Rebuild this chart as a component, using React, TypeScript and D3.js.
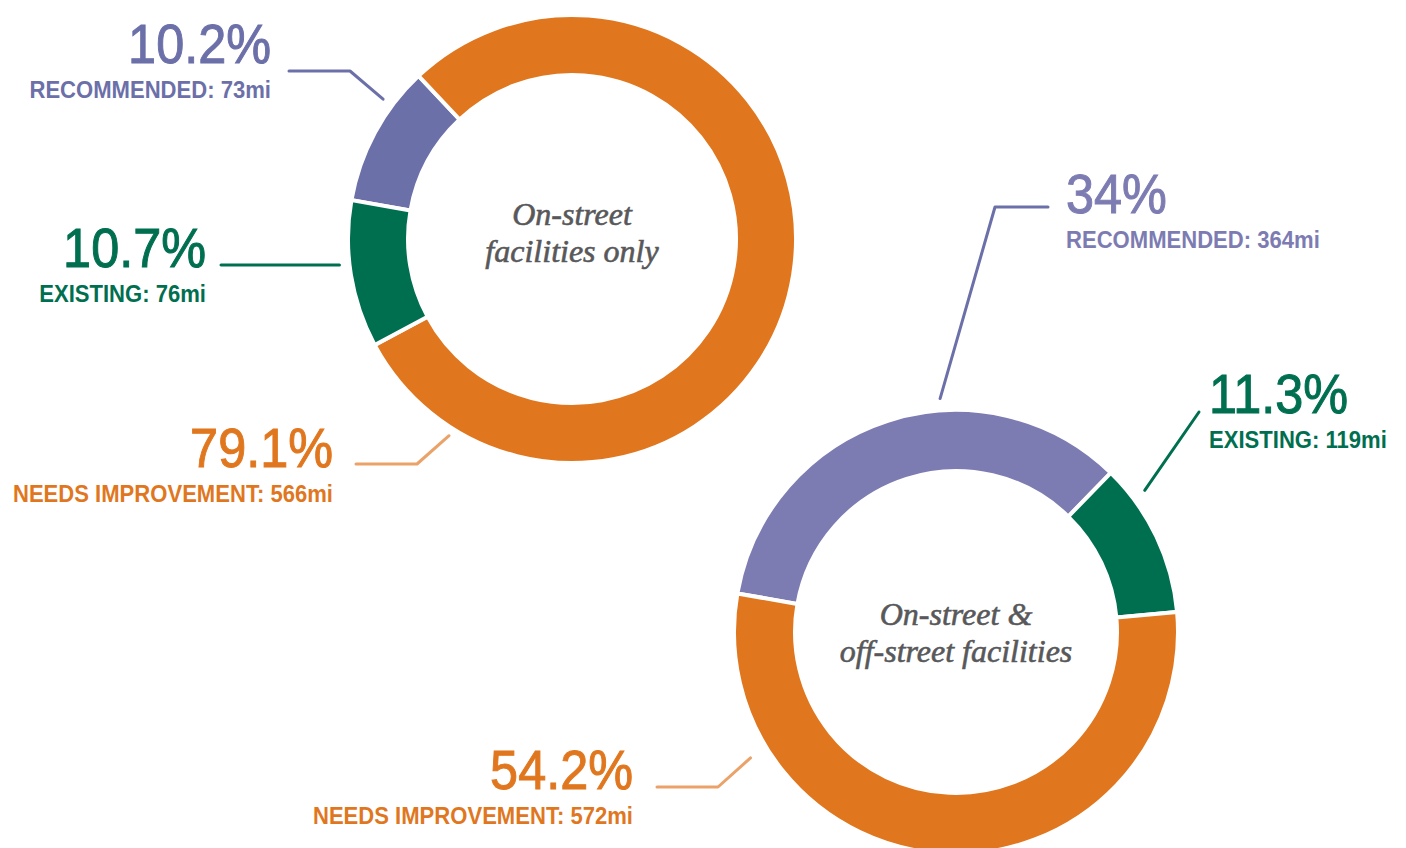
import * as d3 from 'd3'
import React from 'react'

// segment order around each ring (clockwise, starting at -80deg)
const onStreetKeys = ['recommended', 'needs', 'existing']
const onStreetMiles = [73, 566, 76]
const onStreetPct = ['10.2%', '79.1%', '10.7%']
const onStreetNames = ['RECOMMENDED', 'NEEDS IMPROVEMENT', 'EXISTING']

const bothKeys = ['recommended', 'existing', 'needs']
const bothMiles = [364, 119, 572]
const bothPct = ['34%', '11.3%', '54.2%']
const bothNames = ['RECOMMENDED', 'EXISTING', 'NEEDS IMPROVEMENT']

const onStreetTitle = ['On-street', 'facilities only']
const bothTitle = ['On-street &', 'off-street facilities']

const W = 1406
const H = 848

// no condensed face installed, so squeeze Liberation Sans horizontally
const labelFont = "'Liberation Sans', Arial, sans-serif"
const titleFont = "'Liberation Serif', 'DejaVu Serif', serif"

const fills1 = { recommended: '#6c70a9', existing: '#006f50', needs: '#e0771f' }
const fills2 = { recommended: '#7d7cb2', existing: '#006f50', needs: '#e0771f' }
const leaderColor = { recommended: '#6c70a9', existing: '#006f50', needs: '#eba268' }

// label layout: text anchor point + leader polyline (leader ends given as angle/radius from center)
const layout1 = {
  recommended: { x: 271, y: 63, anchor: 'end', line: [[289, 71], [350, 71]], endA: -53.5, endR: 235 },
  existing: { x: 206, y: 267, anchor: 'end', line: [[221, 265]], endA: -96.4, endR: 234 },
  needs: { x: 333, y: 467, anchor: 'end', line: [[356, 464], [417, 464]], endA: -148, endR: 232 },
}
const layout2 = {
  recommended: { x: 1066, y: 213, anchor: 'start', line: [[1048, 207], [995, 207]], endA: -3.9, endR: 234 },
  existing: { x: 1209, y: 413, anchor: 'start', line: [[1199, 412]], endA: 53.1, endR: 236 },
  needs: { x: 633, y: 789, anchor: 'end', line: [[657, 787], [718, 787]], endA: -121.5, endR: 241 },
}

const Donut = ({ cx, cy, outer, inner, keys, miles, pct, names, fills, layout, title, titleBase }) => {
  const pie = d3.pie<number>()
    .sort(null)
    .value((d) => d)
    .startAngle((-80 * Math.PI) / 180)
    .endAngle((280 * Math.PI) / 180)
  const arc = d3.arc<d3.PieArcDatum<number>>().innerRadius(inner).outerRadius(outer)
  const arcs = pie(miles)

  return (
    <g>
      <g transform={`translate(${cx},${cy})`}>
        {arcs.map((a, i) => (
          <path key={keys[i]} d={arc(a) || ''} fill={fills[keys[i]]} stroke="#fff" strokeWidth={4} />
        ))}
        {title.map((t, i) => (
          <text
            key={t}
            x={0}
            y={titleBase + i * 37}
            textAnchor="middle"
            fontFamily={titleFont}
            fontStyle="italic"
            fontSize={32}
            fill="#58585a"
            stroke="#58585a"
            strokeWidth={0.6}
          >
            {t}
          </text>
        ))}
      </g>
      {keys.map((k, i) => {
        const L = layout[k]
        const [ex, ey] = d3.pointRadial((L.endA * Math.PI) / 180, L.endR)
        const pts = [...L.line, [cx + ex, cy + ey]]
        const color = fills[k]
        return (
          <g key={k}>
            <path
              d={d3.line()(pts as [number, number][]) || ''}
              fill="none"
              stroke={leaderColor[k]}
              strokeWidth={3}
              strokeLinecap="round"
              strokeLinejoin="round"
            />
            <text
              transform={`translate(${L.x},${L.y}) scale(0.9,1)`}
              textAnchor={L.anchor}
              fontFamily={labelFont}
              fontSize={56}
              fill={color}
              stroke={color}
              strokeWidth={1}
            >
              {pct[i]}
            </text>
            <text
              transform={`translate(${L.x},${L.y + 35}) scale(0.92,1)`}
              textAnchor={L.anchor}
              fontFamily={labelFont}
              fontWeight="bold"
              fontSize={24}
              fill={color}
            >
              {`${names[i]}: ${miles[i]}mi`}
            </text>
          </g>
        )
      })}
    </g>
  )
}

const App = () => {
  return (
    <svg width={W} height={H} style={{ position: 'absolute', left: 0, top: 0, background: '#fff' }}>
      <Donut
        cx={572}
        cy={239}
        outer={224}
        inner={164}
        keys={onStreetKeys}
        miles={onStreetMiles}
        pct={onStreetPct}
        names={onStreetNames}
        fills={fills1}
        layout={layout1}
        title={onStreetTitle}
        titleBase={-14}
      />
      <Donut
        cx={956}
        cy={632}
        outer={222}
        inner={161}
        keys={bothKeys}
        miles={bothMiles}
        pct={bothPct}
        names={bothNames}
        fills={fills2}
        layout={layout2}
        title={bothTitle}
        titleBase={-7}
      />
    </svg>
  )
}

export default App
